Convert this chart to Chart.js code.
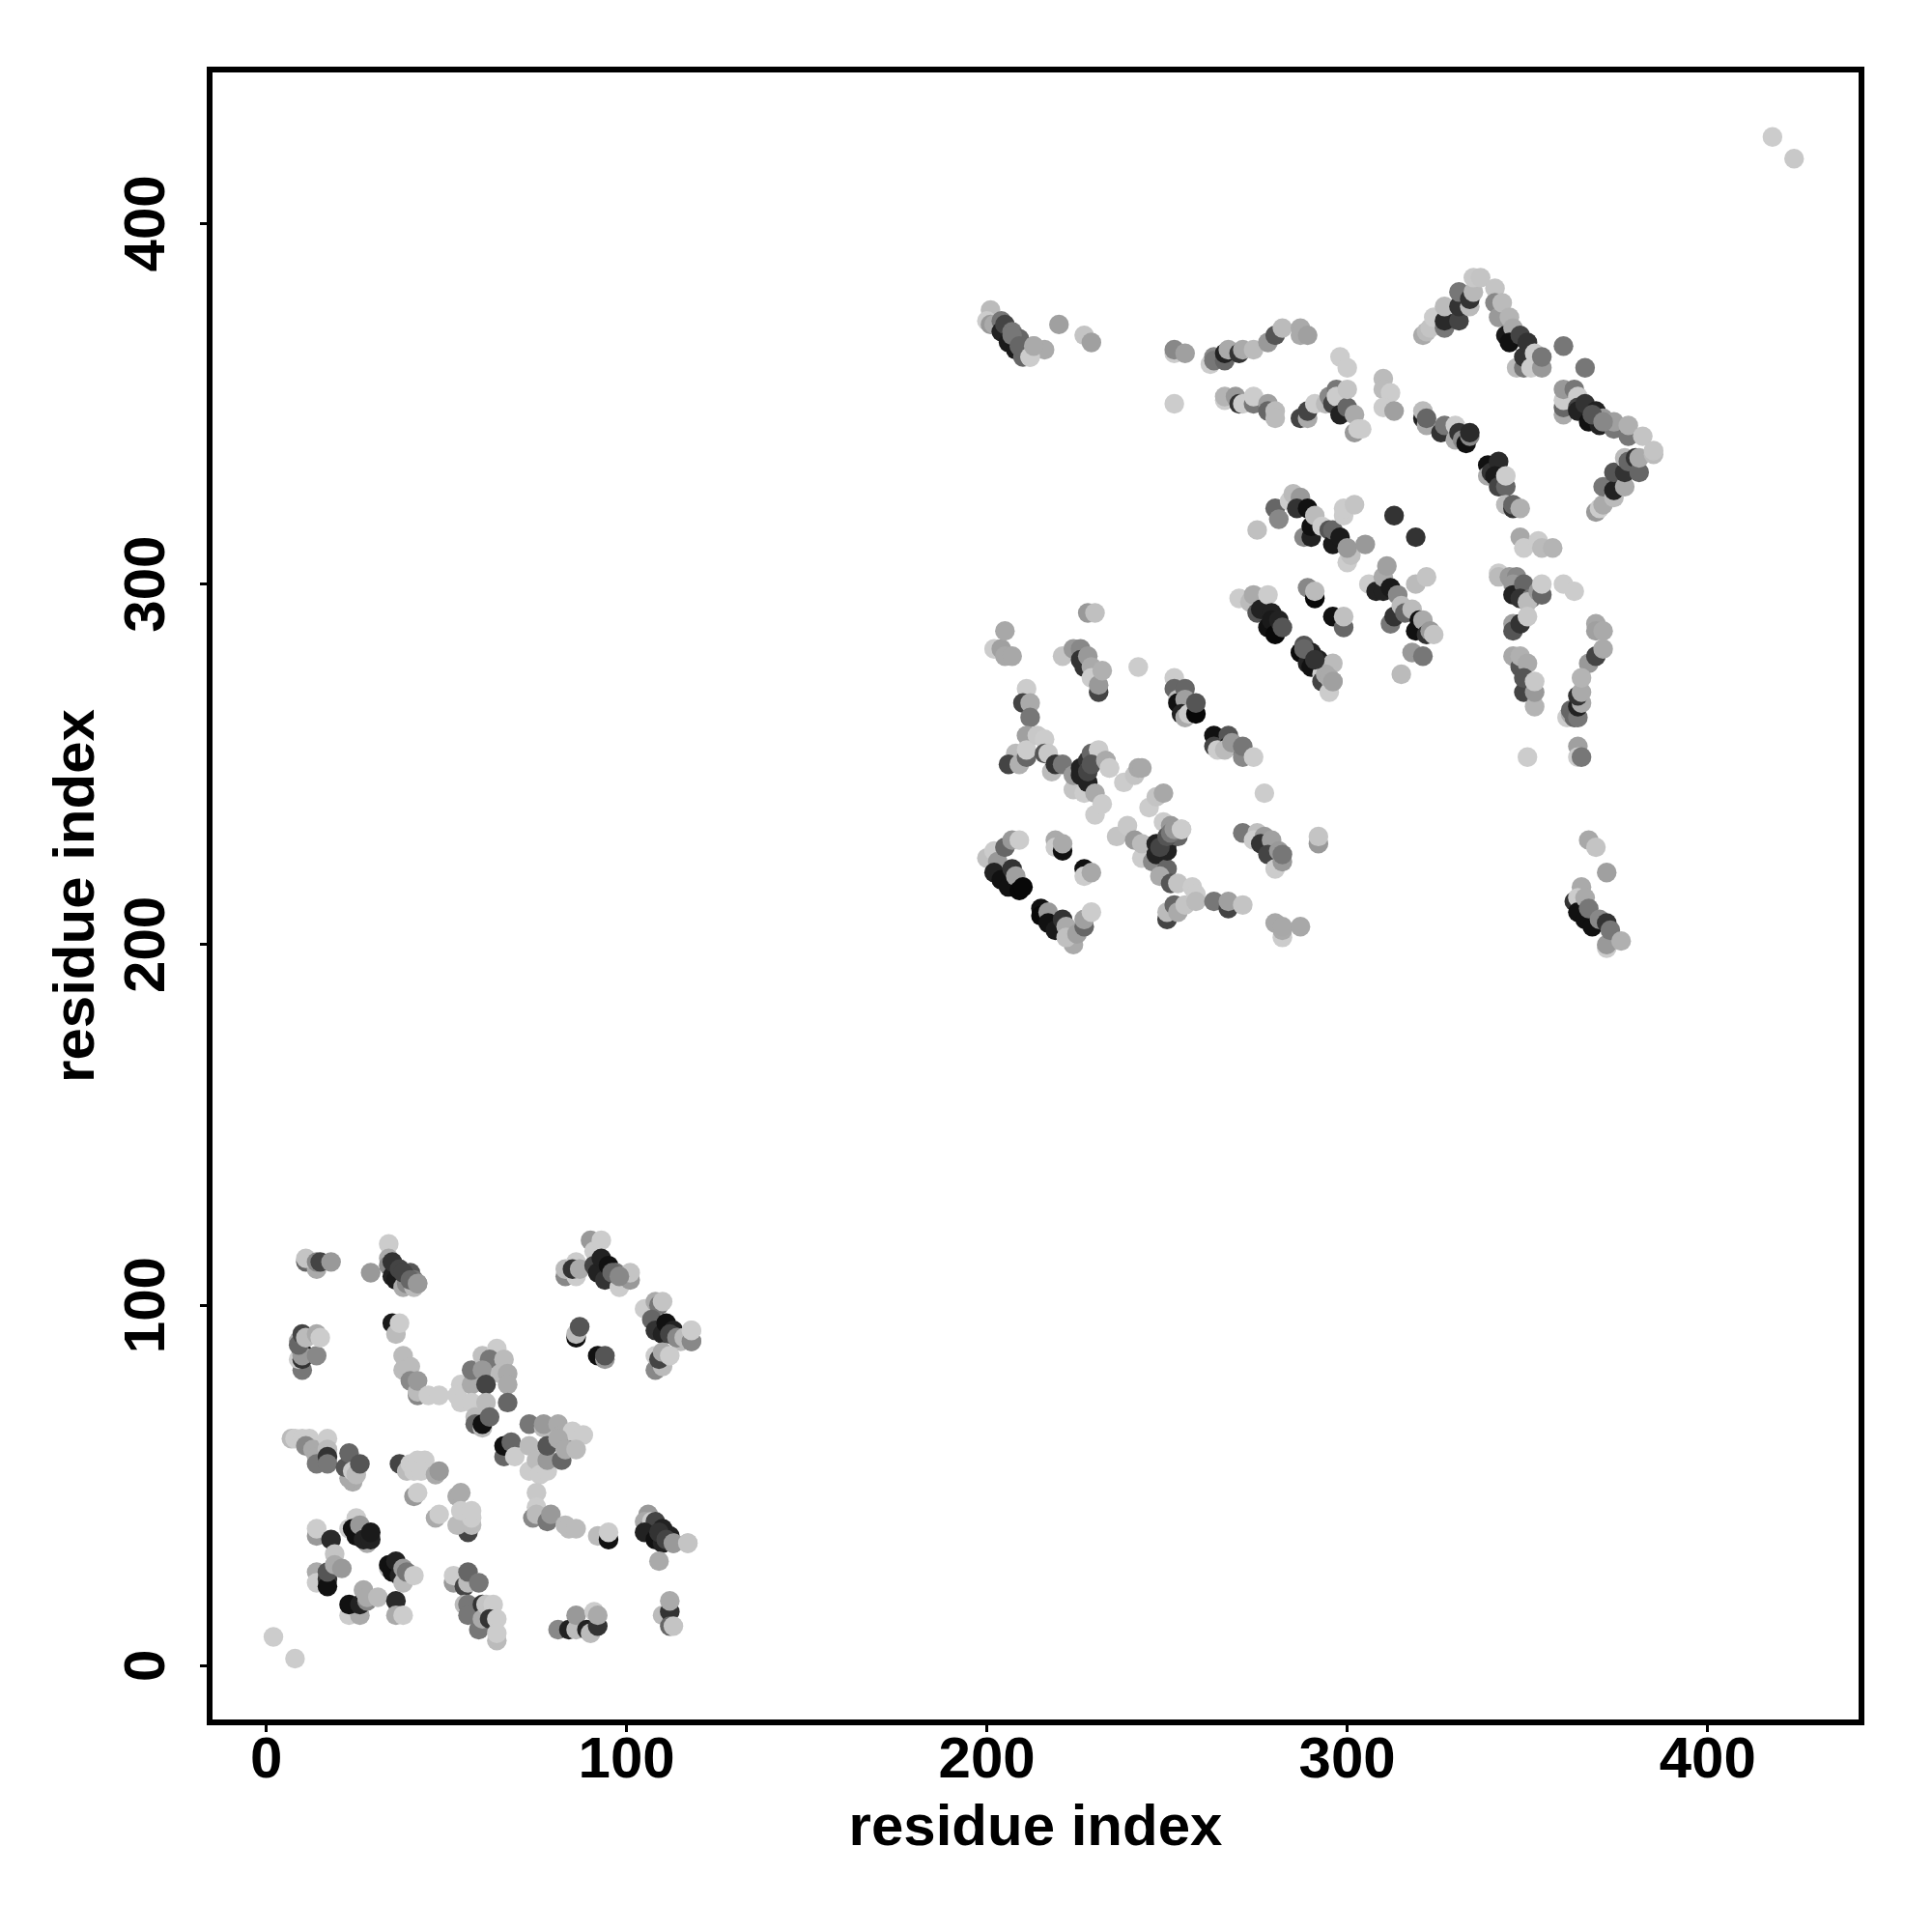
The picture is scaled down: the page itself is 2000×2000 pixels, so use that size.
<!DOCTYPE html>
<html>
<head>
<meta charset="utf-8">
<title>residue contact map</title>
<script src="https://cdn.jsdelivr.net/npm/chart.js@4"></script>
<style>
  html, body { margin: 0; padding: 0; background: #fff; }
  canvas { display: block; }
</style>
</head>
<body>
<canvas id="contactMap" width="2000" height="2000"></canvas>
<script>
// --- Data: [residue x, residue y, gray level], back to front ---
const xTicks = [0, 100, 200, 300, 400];
const yTicks = [0, 100, 200, 300, 400];
const axisLabel = "residue index";

const isolatedContacts = [
  [2,8,0xcc],[8,2,0xcc],[418,424,0xcc],[424,418,0xc8]
];

const lowerTopRow = [
  [11,112,0x66],[14,110,0xaa],[11,113,0xc4],[14,112,0x88],[15,112,0x44],[18,112,0x99],
  [29,109,0x99],[34,117,0xcc],[34,113,0xaa],[34,111,0x88],[35,108,0x22],[35,112,0x33],[36,107,0x1a],[37,110,0x44],[38,105,0xaa],[39,108,0x33],[39,106,0x88],[40,109,0x55],[41,105,0xbb],[41,107,0x77],[42,106,0x99],
  [10,82,0x77],[9,85,0xcc],[10,85,0x33],[10,87,0x22],[10,86,0x99],[14,86,0x88],[9,90,0xaa],[9,89,0x66],[10,92,0x44],[11,91,0xbb],[14,92,0xaa],[15,91,0xcc],
  [35,95,0x1a],[36,92,0xbb],[37,95,0xcc],
  [38,86,0xbb],[40,83,0xbb],[38,82,0xbb],[40,79,0x88],[42,75,0x88],[42,76,0xbb],[42,79,0x99],[45,75,0xcc],[48,75,0xcc],
  [54,78,0xcc],[53,75,0xcc],[54,73,0xcc],[57,78,0xaa],[57,82,0x77],[60,86,0xc0],[64,88,0xcc],[62,85,0x77],[60,82,0x99],[66,85,0xbb],[65,81,0xbb],[67,81,0xaa],[61,78,0x44],[67,78,0xaa],[57,73,0xcc],[61,73,0xbb],[67,73,0x66],[58,69,0xbb],[58,67,0x66],[60,66,0xbb],[60,67,0x11],[62,69,0x66],
  [83,108,0x88],[83,110,0xbb],[86,112,0xcc],[86,108,0xcc],[85,110,0x33],[87,110,0xaa],[90,118,0x99],[91,115,0xcc],[93,118,0xcc],[91,111,0x44],[92,109,0x22],[93,113,0x22],[94,107,0x33],[95,111,0x11],[97,109,0x77],[98,105,0xcc],[99,107,0xcc],[101,107,0x99],[101,109,0xc4],
  [86,91,0x11],[86,92,0xbb],[87,94,0x55],[92,86,0x11],[94,85,0x99],[94,86,0x55],
  [105,99,0xcc],[108,101,0xaa],[109,100,0x77],[110,101,0xc4],[107,96,0x66],[108,93,0x33],[110,92,0x22],[111,95,0x11],[113,93,0x22],[114,91,0x77],[115,90,0xbb],[118,90,0x88],[118,93,0xcc],
  [108,82,0x88],[110,83,0xbb],[108,86,0xcc],[109,85,0x44],[110,87,0xaa],[112,86,0xcc]
];

const lowerMiddleRow = [
  [7,63,0xbb],[8,63,0xcc],[10,63,0xcc],[12,63,0xcc],[11,61,0x88],[13,60,0xaa],[14,58,0xaa],[14,56,0x77],[17,63,0xcc],[17,60,0xbb],[17,58,0x33],[17,56,0x77],
  [24,51,0xaa],[23,52,0xaa],[22,55,0x55],[23,59,0x66],[24,54,0xcc],[25,53,0xbb],[26,56,0x55],
  [37,56,0x44],[39,54,0xbb],[40,56,0xcc],[42,57,0xcc],[44,57,0xcc],[41,54,0xcc],[43,54,0xcc],[47,53,0xaa],[48,54,0x99],[41,47,0x99],[42,48,0xcc],
  [53,47,0xaa],[54,48,0xaa],[47,41,0xaa],[48,42,0xcc],[56,37,0x44],[53,39,0xbb],[54,43,0xcc],[57,39,0xbb],[57,41,0xcc],[57,43,0xcc],
  [73,67,0x77],[77,66,0xbb],[77,67,0x99],[81,67,0xaa],[82,64,0xaa],[84,63,0x55],[85,65,0xcc],[88,64,0xcc],
  [66,58,0x66],[66,61,0x11],[68,62,0x66],[69,58,0xcc],[73,61,0xbb],[73,54,0xcc],[75,57,0xbb],[76,53,0xcc],[78,54,0xcc],[78,57,0x99],[78,61,0x55],[81,63,0xaa],[82,57,0x66],[83,60,0xaa],[86,60,0xbb],
  [75,48,0xc8],[75,44,0xcc],[74,41,0x88],[75,42,0xbb],[78,40,0x77],[79,42,0x99],[83,39,0xbb],[84,38,0xbb],[86,38,0xbb],
  [92,36,0xbb],[95,35,0x11],[95,37,0xcc],
  [106,42,0x99],[105,40,0xaa],[106,38,0x88],[107,40,0xcc],[108,40,0x44],[105,37,0x22],[108,35,0x11],[110,38,0x22],[110,34,0x22],[112,36,0x22],[113,34,0x99],[117,34,0xc4],[109,29,0xaa]
];

const lowerBottomRow = [
  [14,36,0x99],[14,38,0xcc],[18,35,0x2a],[23,38,0xcc],[25,41,0xcc],[24,38,0x11],[25,36,0x11],[26,39,0x99],[28,34,0xaa],[27,35,0x22],[29,35,0x22],[29,37,0x1a],
  [14,26,0xaa],[14,23,0xcc],[17,24,0x33],[17,22,0x11],[17,26,0x55],[19,31,0xc4],[19,28,0xaa],[21,27,0x99],
  [23,14,0xcc],[26,14,0xaa],[23,17,0x11],[26,17,0x22],[27,21,0xaa],[28,18,0x88],[28,19,0xaa],[31,19,0xbb],[36,18,0x2a],[36,14,0xaa],[38,14,0xcc],
  [34,27,0xbb],[34,28,0x11],[35,26,0x11],[36,29,0x22],[37,25,0x22],[38,23,0xbb],[38,27,0x99],[39,26,0x77],[41,25,0xcc],
  [52,23,0x99],[52,25,0xcc],[55,22,0x44],[56,23,0xbb],[56,26,0x66],[59,23,0x77],
  [55,17,0xbb],[56,17,0x77],[56,14,0x77],[59,10,0x77],[60,17,0x33],[60,13,0xaa],[61,17,0xc4],[63,17,0xcc],[62,13,0x33],[64,13,0xcc],[64,7,0xbb],[64,9,0xcc],
  [81,10,0x88],[84,10,0x22],[86,10,0xbb],[86,14,0x99],[89,10,0x22],[90,9,0xbb],[91,15,0xcc],[92,11,0x33],[92,14,0xaa],
  [110,14,0xbb],[112,15,0x33],[112,11,0x66],[112,18,0xaa],[113,11,0xc4]
];

const upperTopRow = [
  [201,376,0xbb],[200,373,0xcc],[201,372,0x99],[202,372,0xaa],[204,373,0x77],[204,370,0x22],[205,372,0x44],[206,367,0x1a],[207,370,0x77],[208,365,0x1a],[209,368,0x66],[210,363,0x66],[212,363,0xcc],[213,366,0xaa],[216,365,0xaa],
  [220,372,0xa0],[227,369,0xc4],[229,367,0xa0],
  [252,364,0xcc],[252,365,0x88],[255,364,0xa0],[252,350,0xcc],
  [262,361,0xcc],[263,363,0x88],[263,362,0x77],[266,362,0x66],[266,364,0x22],[267,365,0xaa],[270,364,0x33],[271,365,0xaa],[274,365,0xbb],[278,367,0x99],[280,369,0x55],[282,371,0xbb],[287,371,0xaa],[287,369,0xaa],[289,369,0xa0],
  [266,351,0xcc],[266,352,0xb4],[269,352,0x99],[270,350,0x33],[271,350,0xcc],[274,350,0x77],[274,352,0xcc],[278,350,0xa0],[278,348,0x66],[280,348,0xbb],[280,346,0xbb],
  [287,346,0x44],[289,346,0xaa],[289,348,0x44],[291,350,0xcc],[294,350,0xbb],[298,363,0xcc],[300,360,0xcc],[295,352,0x88],[297,354,0x77],[296,350,0x44],[297,352,0xcc],[298,347,0x22],[300,349,0x66],[300,354,0xc4],[302,342,0x99],[302,347,0xaa],[303,343,0xcc],[304,343,0xcc],
  [310,357,0xbb],[310,354,0xbb],[312,353,0xcc],[310,349,0xcc],[313,348,0xa0],
  [321,346,0x22],[321,348,0xbb],[322,344,0xaa],[322,346,0x66],[326,342,0x33],[327,344,0x77],[330,340,0xaa],[330,344,0xcc],[331,342,0x33],[332,340,0x88],[333,339,0x11],[334,341,0x88],[334,342,0x2a],
  [339,333,0x11],[339,330,0xaa],[340,331,0x33],[342,334,0x2a],[341,330,0x1a],[342,327,0x44],[344,327,0x66],[344,330,0xcc],[344,322,0xbb],[346,321,0x33],[346,322,0x66],[348,321,0xb0],
  [321,369,0xaa],[322,370,0xbb],[323,371,0xc4],[324,374,0xcc],[327,371,0x77],[327,373,0x2a],[327,377,0xbb],[331,373,0x44],[331,377,0x33],[331,381,0x77],[334,377,0xbb],[334,379,0x33],[335,381,0xb8],[335,385,0xc8],[337,385,0xc4],
  [341,382,0xc4],[341,378,0x88],[342,374,0x99],[343,378,0xbb],[345,374,0xb4],[344,369,0x1a],[346,371,0xaa],[345,367,0x11],[348,369,0x44],[347,360,0xbb],[349,360,0x77],[349,363,0x33],[350,367,0x33],[351,360,0xcc],[352,364,0xcc],[354,360,0x99],[354,363,0x77],
  [360,366,0x77],[366,360,0x77],
  [360,347,0xaa],[360,349,0x66],[360,351,0xcc],[360,354,0x99],[363,354,0x77],[364,352,0xcc],[364,349,0x44],[364,348,0x22],[366,350,0x33],[367,345,0x11],[369,348,0x22],[370,344,0x22],[371,346,0x99],[374,343,0x77],[374,345,0xa0],[378,341,0x77],[378,344,0xb0],[382,341,0xc4],
  [369,320,0x99],[370,321,0xcc],[371,322,0xaa],[371,327,0x77],[374,324,0xbb],[374,326,0x22],[374,331,0x55],[377,327,0xaa],[377,331,0x33],[377,335,0xbb],[378,334,0x66],[380,335,0x33],[381,331,0x66],[381,335,0xaa],[385,336,0xbb],[385,337,0xc4]
];

const upperMiddleRow = [
  [275,315,0xc0],[280,321,0x66],[281,318,0x88],[284,323,0xcc],[285,325,0xbb],[287,324,0x99],[286,321,0x33],[288,313,0x88],[289,321,0x11],[290,313,0x22],[290,316,0x11],[291,319,0xbb],[293,316,0xcc],[295,315,0x55],[296,311,0x1a],[296,315,0x66],[298,313,0x1a],[299,319,0xcc],[299,321,0xcc],[300,306,0xcc],[301,308,0xc0],[302,322,0xc4],[300,310,0x99],[305,311,0x99],
  [313,319,0x33],[319,313,0x33],
  [306,300,0xcc],[308,298,0x22],[310,298,0x22],[310,302,0xaa],[311,305,0xa0],[312,299,0x1a],[312,289,0x77],[313,291,0x33],[314,297,0x88],[315,294,0xbb],[316,292,0x66],[318,293,0xbb],[319,287,0x11],[319,300,0xbb],[320,290,0x11],[322,302,0xc4],[321,290,0xaa],[322,286,0x33],[323,287,0x99],[324,286,0xc4],[318,281,0x99],[321,280,0x77],[315,275,0xbb],
  [348,313,0xa8],[349,310,0xcc],[353,312,0xcc],[354,310,0xbb],[357,310,0xb4],
  [342,303,0xcc],[342,302,0xbb],[345,302,0x99],[347,302,0x88],[346,300,0x99],[346,297,0x22],[349,300,0x66],[348,296,0x33],[351,296,0x77],[350,295,0xbb],[353,298,0x99],[354,297,0x66],[354,300,0xcc],[360,300,0xcc],[363,298,0xcc],[346,289,0xa0],[346,287,0x55],[348,289,0x33],[350,291,0xc8],
  [369,289,0xa8],[369,287,0xa0],[371,287,0xaa],[367,278,0x99],[369,280,0x44],[371,282,0xaa],[361,263,0xcc],[362,264,0xaa],[362,265,0x66],[363,263,0x66],[364,263,0x77],[364,266,0x22],[365,267,0xaa],[364,269,0x33],[365,270,0xaa],[365,274,0xb4],[364,255,0xa0],[364,252,0xcc],[365,252,0x77],[350,252,0xcc],
  [346,280,0xa8],[348,277,0x55],[348,280,0xb0],[350,278,0xaa],[349,270,0x44],[349,274,0x55],[352,266,0xb4],[352,270,0x99],[352,273,0xc8],
  [228,292,0x99],[230,292,0xc0],
  [202,282,0xcc],[204,282,0xa0],[205,287,0xa8],[205,280,0xa8],[207,280,0xa8],
  [221,280,0xc4],[224,282,0x99],[226,282,0x88],[226,279,0x33],[227,277,0x33],[228,280,0x99],[229,277,0xaa],[229,274,0xcc],[231,270,0x44],[231,272,0x99],[232,276,0xb0],
  [242,277,0xcc],
  [252,274,0xcc],[252,271,0x66],[253,268,0xbb],[253,267,0x11],[255,271,0x66],[255,268,0xa0],[254,264,0x22],[255,263,0xaa],[256,264,0xcc],[258,264,0x08],[258,267,0x55],
  [263,258,0x11],[263,255,0x44],[264,254,0xcc],[267,258,0x55],[267,255,0x11],[266,254,0xbb],[268,256,0x99],[271,252,0x88],[271,255,0x77],[274,252,0xcc],
  [277,242,0xcc],
  [287,281,0x0c],[288,283,0x55],[289,278,0x22],[290,281,0x22],[290,277,0x11],[292,279,0x22],[293,275,0xcc],[293,273,0x44],[295,270,0xcc],[296,278,0xbb],[294,275,0xaa],[296,273,0xaa],
  [270,296,0xcc],[273,295,0xbb],[274,297,0xaa],[275,292,0x55],[276,293,0x22],[278,297,0xcc],[279,292,0x22],[278,288,0x11],[279,290,0x1a],[280,286,0x08],[281,290,0x22],[282,288,0x55],
  [289,299,0x88],[291,296,0x08],[291,298,0xbb],
  [296,291,0x11],[299,288,0x66],[299,291,0xc0]
];

const upperBottomRow = [
  [211,271,0xcc],[210,267,0x44],[212,267,0xaa],[212,263,0x77],[211,258,0xa0],[208,253,0xbb],[206,250,0x44],[209,250,0xb0],[211,252,0x66],[211,254,0xcc],[214,258,0xc8],[216,257,0xcc],[216,253,0x55],[217,253,0xc8],
  [218,248,0xbb],[219,250,0x33],[221,250,0x77],[224,243,0xc4],[224,247,0x99],[226,247,0x22],[226,249,0x22],[227,242,0xcc],[228,245,0x22],[228,251,0x33],[229,253,0x66],[230,236,0xcc],[230,242,0xaa],[232,239,0xcc],[231,254,0xcc],[233,251,0xaa],[234,249,0xcc],
  [238,245,0xcc],[241,247,0xc4],[242,249,0xa8],[243,249,0xa8],[245,238,0xcc],[247,241,0xc4],[249,242,0xa8],
  [236,230,0xc4],[239,233,0xc8],[241,229,0x99],[243,224,0xcc],[243,228,0xbb],[246,223,0x88],[247,228,0x22],[247,225,0x22],[249,234,0xcc],[250,221,0x66],[248,219,0xaa],[250,228,0x33],[250,226,0x22],[251,233,0x99],[253,230,0x66],[254,232,0xcc],
  [250,207,0x44],[250,209,0xbb],[252,211,0x66],[253,209,0xaa],[255,211,0xc4],[251,217,0x55],[253,217,0xc4],[257,216,0xcc],[258,214,0xcc],[258,212,0xbb],[263,212,0x77],[267,210,0x44],[267,212,0xa0],[271,211,0xc4],
  [271,231,0x77],[275,231,0xc0],[274,229,0xcc],[277,230,0x99],[276,228,0x33],[279,229,0xa0],[278,225,0x44],[280,221,0xcc],[281,226,0x99],[282,223,0x99],[282,225,0x77],
  [292,228,0x99],[292,230,0xc4],
  [282,202,0xcc],[282,204,0xaa],[280,206,0xa8],[282,205,0xa8],[287,205,0xa8],
  [200,224,0xc0],[202,226,0xcc],[203,223,0x99],[202,220,0x22],[204,218,0x11],[205,227,0x66],[207,229,0x99],[209,229,0xcc],[207,221,0x33],[206,216,0x11],[208,219,0xa0],[209,215,0x08],[210,216,0x08],
  [219,229,0xaa],[219,227,0xcc],[221,226,0x11],[221,228,0xaa],[227,221,0x11],[227,219,0xcc],[229,220,0xa8],
  [215,210,0x11],[215,208,0x08],[217,209,0x99],[217,206,0x11],[219,204,0x1a],[221,207,0x33],[222,205,0xaa],[224,200,0xaa],[222,202,0xc0],[225,203,0xa0],[227,205,0x66],[227,207,0xa0],[229,209,0xcc],
  [367,229,0xa8],[369,227,0xc4],[372,220,0xa0],[365,216,0xaa],[363,212,0x33],[364,213,0xcc],[364,209,0x11],[366,213,0xaa],[366,207,0x11],[368,205,0x11],[367,210,0x77],[370,207,0x88],[372,199,0xcc],[372,200,0x99],[372,206,0x33],[373,204,0x77],[376,201,0xb0]
];

// mid grays that sit on top of the dark strands
const strandTops = [
  [38,109,0x44],[40,107,0x66],[42,106,0x99],
  [96,109,0x66],[98,108,0x88],
  [112,92,0x44],[114,91,0x88],[116,91,0xbb],[118,90,0x88],[118,93,0xcc],
  [109,37,0x33],[111,35,0x44],[113,34,0x99],[117,34,0xc4],
  [207,369,0x77],[209,366,0x66],[212,363,0xcc],[213,366,0xaa],
  [228,248,0x44],[229,250,0x55],[233,251,0xaa],[234,249,0xcc],
  [248,227,0x44],[250,230,0x55],[251,231,0x77],[252,232,0x99],[254,232,0xcc],
  [288,282,0x66],[291,279,0x33],[295,274,0xaa],[296,273,0xa0],
  [368,347,0x55],[371,345,0x88]
];

const contacts = [
  ...isolatedContacts,
  ...lowerTopRow, ...lowerMiddleRow, ...lowerBottomRow,
  ...upperTopRow, ...upperMiddleRow, ...upperBottomRow,
  ...strandTops
];

const tickFont = { family: "Liberation Sans", size: 60, weight: "bold" };
const titleFont = { family: "Liberation Sans", size: 60, weight: "bold" };

// --- Black box round the plot area ---
const frameBox = {
  id: "frameBox",
  afterDatasetsDraw(chart) {
    const { ctx, chartArea: a } = chart;
    ctx.save();
    ctx.strokeStyle = "#000";
    ctx.lineWidth = 6;
    ctx.strokeRect(a.left, a.top, a.right - a.left, a.bottom - a.top);
    ctx.restore();
  }
};

function tickOptions(values) {
  return {
    afterBuildTicks: scale => { scale.ticks = values.map(v => ({ value: v })); }
  };
}

new Chart(document.getElementById("contactMap").getContext("2d"), {
  type: "scatter",
  plugins: [frameBox],
  data: {
    datasets: [{
      data: contacts.map(c => ({ x: c[0], y: c[1] })),
      pointBackgroundColor: contacts.map(c => `rgb(${c[2]},${c[2]},${c[2]})`),
      pointRadius: 10.2,
      pointBorderWidth: 0
    }]
  },
  options: {
    responsive: false,
    animation: false,
    devicePixelRatio: 1,
    layout: { padding: { top: 72, right: 73, left: 0, bottom: 0 } },
    plugins: { legend: { display: false }, tooltip: { enabled: false } },
    scales: {
      x: {
        type: "linear",
        min: -15.7,
        max: 442.7,
        ...tickOptions(xTicks),
        afterFit: scale => { scale.height = 217; },
        border: { display: false },
        grid: { drawOnChartArea: false, tickLength: 10, tickWidth: 3, tickColor: "#000" },
        ticks: { font: tickFont, color: "#000", maxRotation: 0, autoSkip: false, padding: -6 },
        title: { display: true, text: axisLabel, font: titleFont, color: "#000", padding: { top: 0, bottom: 71 } }
      },
      y: {
        type: "linear",
        min: -15.7,
        max: 442.7,
        ...tickOptions(yTicks),
        afterFit: scale => { scale.width = 217; },
        border: { display: false },
        grid: { drawOnChartArea: false, tickLength: 10, tickWidth: 3, tickColor: "#000" },
        ticks: { font: tickFont, color: "#000", minRotation: 90, maxRotation: 90, crossAlign: "center", autoSkip: false, padding: 3 },
        title: { display: true, text: axisLabel, font: titleFont, color: "#000", padding: { top: 44, bottom: 0 } }
      }
    }
  }
});
</script>
</body>
</html>
